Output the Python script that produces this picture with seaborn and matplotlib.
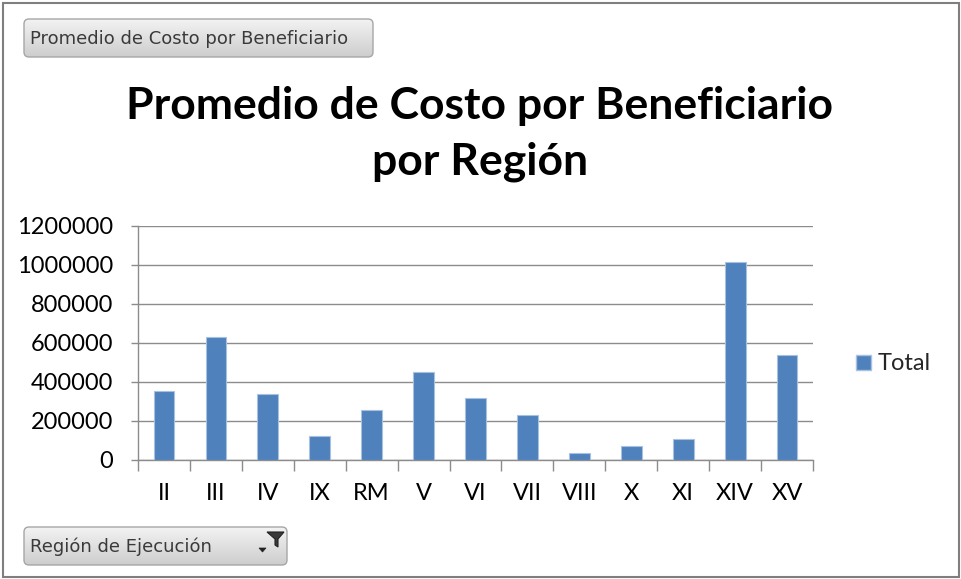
import matplotlib
matplotlib.use("Agg")
import matplotlib.pyplot as plt
import seaborn as sns
import numpy as np
import pandas as pd
from matplotlib.patches import FancyBboxPatch, Rectangle, Polygon, Patch

# values
regiones = ["II", "III", "IV", "IX", "RM", "V", "VI", "VII", "VIII", "X", "XI", "XIV", "XV"]
costo_promedio = [350000, 627000, 337000, 120000, 252000, 450000, 317000, 231000,
                  34000, 67000, 106000, 1016000, 535000]
y_ticks = [0, 200000, 400000, 600000, 800000, 1000000, 1200000]

df = pd.DataFrame({"region": regiones, "total": costo_promedio})

W, H = 961, 579
sns.set_style("white")
plt.rcParams["font.family"] = ["Lato", "DejaVu Sans"]

fig = plt.figure(figsize=(W / 100, H / 100), dpi=100)
fig.patch.set_facecolor("white")

# plot area in pixel terms
x0, x1, ytop, ybot = 138, 813, 226, 459.5
ax = fig.add_axes([x0 / W, 1 - ybot / H, (x1 - x0) / W, (ybot - ytop) / H])

sns.barplot(data=df, x="region", y="total", color="#4F81BD", width=0.4,
            edgecolor="#a9c1e0", linewidth=0.8, saturation=1, ax=ax, zorder=3)

ax.set_xlim(-0.5, len(regiones) - 0.5)
ax.set_ylim(0, 1200000)
ax.set_yticks(y_ticks)
ax.set_yticklabels([str(v) for v in y_ticks])
ax.set_xlabel("")
ax.set_ylabel("")

ax.grid(axis="y", color="#8c8c8c", linewidth=1.0, zorder=0)
ax.grid(axis="x", visible=False)
for s in ["top", "right"]:
    ax.spines[s].set_visible(False)
for s in ["left", "bottom"]:
    ax.spines[s].set_color("#8c8c8c")
    ax.spines[s].set_linewidth(1.0)

ax.tick_params(axis="y", which="major", left=True, length=5, width=1, color="#8c8c8c",
               labelsize=17, labelcolor="black", pad=13)
ax.tick_params(axis="x", which="major", length=0, labelsize=17, labelcolor="black", pad=17)
ax.set_xticks([i - 0.5 for i in range(len(regiones) + 1)], minor=True)
ax.tick_params(axis="x", which="minor", bottom=True, length=8, width=1, color="#8c8c8c")

# legend
ax.legend(handles=[Patch(facecolor="#4F81BD", edgecolor="#a9c1e0", label="Total")],
          loc="center left", bbox_to_anchor=(847 / W, 1 - 364 / H),
          bbox_transform=fig.transFigure, frameon=False, fontsize=17,
          handlelength=0.6, handleheight=0.6, handletextpad=0.3, borderaxespad=0)

# title
fig.text(480 / W, 1 - 134 / H, "Promedio de Costo por Beneficiario\npor Región",
         ha="center", va="center", fontsize=32, fontweight="bold",
         linespacing=1.45, color="black")


def pixel_button(x, y, w, h):
    # pixel coordinates from top-left of the image, gray gradient face
    box = FancyBboxPatch((x, H - y - h), w, h, boxstyle="round,pad=0,rounding_size=5",
                         transform=None, facecolor="none", edgecolor="#a6a6a6",
                         linewidth=1.0, zorder=6)
    fig.patches.append(box)
    shade = np.linspace(0.95, 0.80, h + 1)[:, None] * np.ones((1, w + 1))
    rgb = np.dstack([shade, shade, shade])
    img = fig.figimage(rgb, xo=x, yo=H - y - h - 1, origin="upper", zorder=5)
    img.set_clip_path(box)


pixel_button(24, 19, 349, 38)
pixel_button(24, 527, 263, 38)
fig.text(30 / W, 1 - 39 / H, "Promedio de Costo por Beneficiario", ha="left", va="center",
         fontsize=13, color="#3a3a3a", family=["DejaVu Sans"], zorder=8)
fig.text(30 / W, 1 - 547 / H, "Región de Ejecución", ha="left", va="center",
         fontsize=13, color="#3a3a3a", family=["DejaVu Sans"], zorder=8)

# filter icon on the bottom button
funnel = [(267, 532), (284, 532), (278, 539), (278, 547), (275, 545), (275, 539)]
fig.patches.append(Polygon([(px, H - py) for px, py in funnel], closed=True, transform=None,
                           facecolor="#3a3a3a", edgecolor="#222222", linewidth=0.8, zorder=7))
arrow = [(259, 548), (266, 548), (262.5, 552)]
fig.patches.append(Polygon([(px, H - py) for px, py in arrow], closed=True, transform=None,
                           facecolor="#222222", edgecolor="#222222", linewidth=0.5, zorder=7))

# outer frame
fig.patches.append(Rectangle((2.5, 2.5), W - 5, H - 5, transform=None, fill=False,
                             edgecolor="#7f7f7f", linewidth=1.5, zorder=9))

fig.savefig("out.png", dpi=100)
